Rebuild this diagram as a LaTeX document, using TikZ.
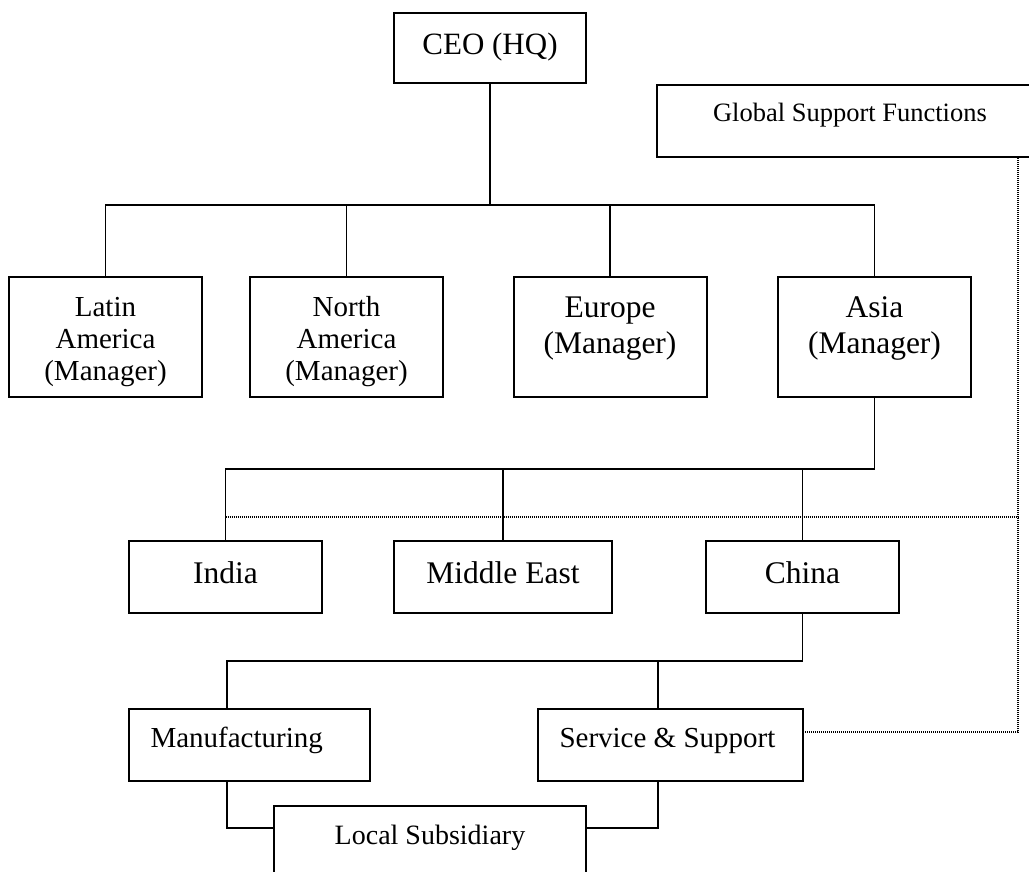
\documentclass[tikz,border=0pt]{standalone}
\usepackage{fontspec}
\setmainfont{Liberation Serif}

\newcommand{\ctext}[4]{\parbox[c][#2][t]{#1}{\centering\rule{0pt}{#3}#4}}
\newcommand{\ltext}[4]{\parbox[c][#2][t]{#1}{\raggedright\hspace*{10.75pt}\rule{0pt}{#3}#4}}

\tikzset{
	orgbox/.style={draw,line width=1pt,inner sep=0pt,outer sep=0pt},
	link/.style={line width=0.8pt},
	dotlink/.style={line width=0.8pt,dash pattern=on 0.5pt off 0.5pt},
}

\begin{document}
\begin{tikzpicture}[
		x={(0.5pt,0pt)},
		y={(0pt,-0.5pt)},
	]
		\useasboundingbox (0,0) rectangle (1029,872);

		% top level
		\node[orgbox,font=\fontsize{15.5}{18}\selectfont] (ceo) at (490,48) {\ctext{96pt}{35pt}{21pt}{CEO (HQ)}};
		\node[orgbox,font=\fontsize{13.25}{15}\selectfont] (gsf) at (850,121) {\ctext{193pt}{36pt}{18.5pt}{Global Support Functions}};

		% regions
		\node[orgbox,font=\fontsize{14.5}{16}\selectfont] (latin) at (105.5,337) {\ctext{96.5pt}{60pt}{19.5pt}{Latin\\America\\(Manager)}};
		\node[orgbox,font=\fontsize{14.5}{16}\selectfont] (north) at (346.5,337) {\ctext{96.5pt}{60pt}{19.5pt}{North\\America\\(Manager)}};
		\node[orgbox,font=\fontsize{15.75}{18}\selectfont] (europe) at (610,337) {\ctext{96.5pt}{60pt}{20pt}{Europe\\(Manager)}};
		\node[orgbox,font=\fontsize{15.75}{18}\selectfont] (asia) at (874.5,337) {\ctext{96.5pt}{60pt}{20pt}{Asia\\(Manager)}};

		% countries
		\node[orgbox,font=\fontsize{15.75}{18}\selectfont] (india) at (225.5,577) {\ctext{96.5pt}{36pt}{21pt}{India}};
		\node[orgbox,font=\fontsize{15.75}{18}\selectfont] (mideast) at (503,577) {\ctext{109pt}{36pt}{21pt}{Middle East}};
		\node[orgbox,font=\fontsize{15.75}{18}\selectfont] (china) at (802.5,577) {\ctext{96.5pt}{36pt}{21pt}{China}};

		% china units
		\node[orgbox,font=\fontsize{14.5}{16}\selectfont] (manuf) at (249.5,745) {\ltext{120.5pt}{36pt}{19pt}{Manufacturing}};
		\node[orgbox,font=\fontsize{14.5}{16}\selectfont] (service) at (670.5,745) {\ltext{132.5pt}{36pt}{19pt}{Service \& Support}};
		\node[orgbox,font=\fontsize{14}{16}\selectfont] (local) at (430,842) {\ctext{156pt}{36pt}{19pt}{Local Subsidiary}};

		% joints
		\coordinate (regbar) at (490,205);
		\coordinate (asiabar) at (874.5,469);
		\coordinate (mtap) at (227,661);
		\coordinate (stap) at (658,661);
		\coordinate (mdrop) at (227,828);
		\coordinate (sdrop) at (658,828);
		\coordinate (dotrow) at (1018,517);
		\coordinate (dotcorner) at (1018,732);

		\draw[link] (ceo.south) -- (regbar);
		\foreach \n in {latin,north,europe,asia}{
			\draw[link] (\n.north) |- (regbar);
		}

		\draw[link] (asia.south) -- (asiabar);
		\foreach \n in {india,mideast,china}{
			\draw[link] (\n.north) |- (asiabar);
		}

		\draw[link] (china.south) |- (mtap) -- (mtap |- manuf.north);
		\draw[link] (stap) -- (stap |- service.north);

		\draw[link] (mdrop |- manuf.south) -- (mdrop) -- (mdrop -| local.west);
		\draw[link] (sdrop |- service.south) -- (sdrop) -- (sdrop -| local.east);

		% dotted support lines
		\draw[dotlink] (india.north |- dotrow) -- (dotrow);
		\draw[dotlink] (dotcorner -| service.east) -- (dotcorner) -- (dotcorner |- gsf.south);
	\end{tikzpicture}
\end{document}
